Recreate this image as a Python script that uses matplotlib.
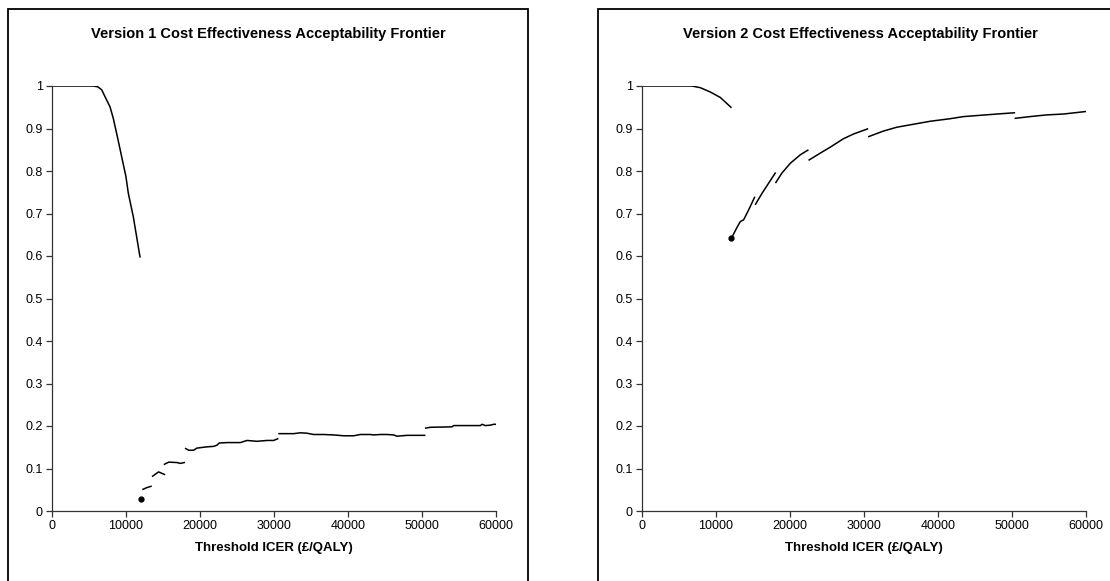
import matplotlib
matplotlib.use("Agg")
import matplotlib.pyplot as plt
from matplotlib.patches import Rectangle

plt.rcParams['font.family'] = ['Liberation Sans', 'DejaVu Sans']

# ---- Version 1 frontier ----
v1_high_x = [0, 5580, 6200, 6720, 7160, 7840, 8280, 8830, 9410, 9990, 10310, 10990, 11440, 11890]
v1_high_y = [1.0, 1.0, 0.998, 0.991, 0.975, 0.951, 0.924, 0.881, 0.834, 0.787, 0.748, 0.692, 0.645, 0.598]

v1_point_x = 12020
v1_point_y = 0.028

v1_seg_x = [
    [12300, 12800, 13380],
    [13600, 14400, 15200],
    [15200, 15770, 16890, 17340, 17880],
    [18060, 18470, 19140, 19590, 20950, 21840, 22300, 22610, 23650, 25450, 26350,
     27700, 29050, 29950, 30500],
    [30680, 32660, 33560, 34460, 35360, 36710, 38060, 39410, 40770, 41670, 43020,
     43470, 44370, 45270, 46170, 46620, 47970, 50360],
    [50500, 51130, 54050, 54280, 57880, 58110, 58560, 59230, 59680, 60040],
]
v1_seg_y = [
    [0.051, 0.055, 0.058],
    [0.082, 0.092, 0.086],
    [0.110, 0.115, 0.114, 0.112, 0.114],
    [0.147, 0.143, 0.143, 0.148, 0.151, 0.152, 0.155, 0.160, 0.161, 0.161, 0.166,
     0.164, 0.166, 0.166, 0.170],
    [0.182, 0.182, 0.184, 0.183, 0.180, 0.180, 0.179, 0.177, 0.177, 0.180, 0.180,
     0.179, 0.180, 0.180, 0.179, 0.176, 0.178, 0.178],
    [0.195, 0.197, 0.198, 0.201, 0.201, 0.204, 0.201, 0.202, 0.204, 0.204],
]

# ---- Version 2 frontier ----
v2_high_x = [0, 6750, 7880, 9220, 10580, 12020]
v2_high_y = [1.0, 1.0, 0.996, 0.986, 0.973, 0.950]

v2_point_x = 12020
v2_point_y = 0.642

v2_seg_x = [
    [12150, 12830, 13280, 13730, 14400, 15210],
    [15350, 16200, 17100, 18000],
    [18090, 18900, 20030, 21380, 22410],
    [22590, 24080, 25430, 27230, 28580, 30470],
    [30650, 32630, 34430, 36680, 38930, 41630, 43430, 45680, 47930, 50320],
    [50450, 52430, 54680, 56930, 59990],
]
v2_seg_y = [
    [0.644, 0.667, 0.681, 0.685, 0.708, 0.738],
    [0.722, 0.747, 0.771, 0.795],
    [0.773, 0.795, 0.818, 0.838, 0.849],
    [0.826, 0.842, 0.856, 0.876, 0.887, 0.899],
    [0.881, 0.894, 0.903, 0.910, 0.917, 0.923, 0.928, 0.931, 0.934, 0.937],
    [0.924, 0.928, 0.932, 0.934, 0.940],
]

titles = ["Version 1 Cost Effectiveness Acceptability Frontier",
          "Version 2 Cost Effectiveness Acceptability Frontier"]
x_label = "Threshold ICER (\u00a3/QALY)"
x_ticks = [0, 10000, 20000, 30000, 40000, 50000, 60000]
y_ticks = [0, 0.1, 0.2, 0.3, 0.4, 0.5, 0.6, 0.7, 0.8, 0.9, 1]
y_tick_labels = ["0", "0.1", "0.2", "0.3", "0.4", "0.5", "0.6", "0.7", "0.8", "0.9", "1"]

W, H = 1110, 581
fig = plt.figure(figsize=(W / 100, H / 100), dpi=100)

# chart frames in pixels: left, top, right, bottom
frames = [(8, 9, 528, 600), (598, 9, 1130, 600)]
for (l, t, r, b) in frames:
    fig.patches.append(Rectangle((l / W, 1 - b / H), (r - l) / W, (b - t) / H,
                                 transform=fig.transFigure, fill=False,
                                 edgecolor='black', linewidth=1.3, clip_on=False))

# plot areas in pixels: left, top, right, bottom
axes_px = [(52, 86, 496, 511), (642, 86, 1086, 511)]
title_cx = [268, 860]
data = [
    (v1_high_x, v1_high_y, v1_point_x, v1_point_y, v1_seg_x, v1_seg_y),
    (v2_high_x, v2_high_y, v2_point_x, v2_point_y, v2_seg_x, v2_seg_y),
]

for i, ((l, t, r, b), (hx, hy, px, py, sx, sy)) in enumerate(zip(axes_px, data)):
    ax = fig.add_axes([l / W, 1 - b / H, (r - l) / W, (b - t) / H])
    ax.plot(hx, hy, color='black', lw=1.1)
    for xs, ys in zip(sx, sy):
        ax.plot(xs, ys, color='black', lw=1.1)
    ax.plot([px], [py], 'o', color='black', markersize=3.5)

    ax.set_xlim(0, 60000)
    ax.set_ylim(0, 1)
    ax.set_xticks(x_ticks)
    ax.set_xticklabels([str(v) for v in x_ticks])
    ax.set_yticks(y_ticks)
    ax.set_yticklabels(y_tick_labels)
    for s in ['top', 'right']:
        ax.spines[s].set_visible(False)
    for s in ['left', 'bottom']:
        ax.spines[s].set_color('#333333')
        ax.spines[s].set_linewidth(0.9)
    ax.tick_params(direction='out', length=4, width=0.9, color='#333333',
                   labelsize=9, pad=2.5)
    ax.set_xlabel(x_label, fontsize=9.5, fontweight='bold', labelpad=7)

    fig.text(title_cx[i] / W, 1 - 34 / H, titles[i],
             ha='center', va='center', fontsize=10.5, fontweight='bold')

fig.savefig("out.png", dpi=100)
